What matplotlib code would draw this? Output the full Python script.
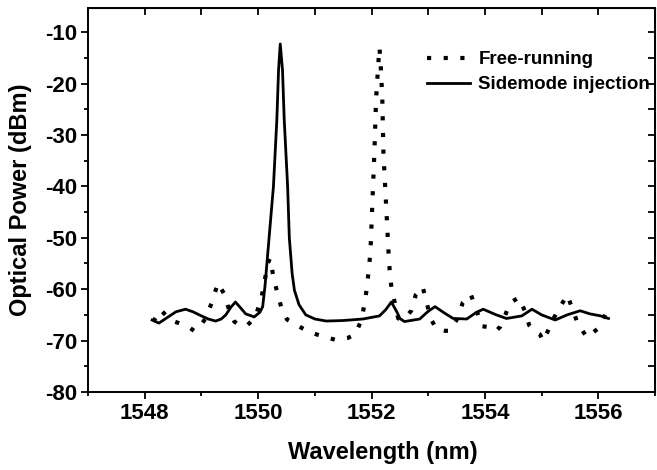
import numpy as np
import matplotlib.pyplot as plt
from matplotlib.ticker import MultipleLocator

plt.rcParams['font.family'] = ['Liberation Sans', 'DejaVu Sans']
plt.rcParams['font.weight'] = 'bold'
plt.rcParams['axes.unicode_minus'] = False

# Free-running spectrum (dotted)
free_wl = [1548.15, 1548.28, 1548.45, 1548.65, 1548.78, 1548.87, 1548.96, 1549.08,
           1549.19, 1549.29, 1549.41, 1549.50, 1549.58, 1549.69, 1549.81, 1549.95,
           1550.06, 1550.12, 1550.17, 1550.21, 1550.27, 1550.34, 1550.42, 1550.51,
           1550.65, 1550.78, 1550.95, 1551.14, 1551.38, 1551.46, 1551.58, 1551.72,
           1551.82, 1551.88, 1551.92, 1551.95, 1551.98, 1552.05, 1552.08, 1552.12,
           1552.14, 1552.16, 1552.19, 1552.21, 1552.30, 1552.32, 1552.35, 1552.47,
           1552.58, 1552.70, 1552.78, 1552.90, 1552.98, 1553.03, 1553.15, 1553.29,
           1553.38, 1553.50, 1553.61, 1553.75, 1553.85, 1553.94, 1554.09, 1554.20,
           1554.27, 1554.36, 1554.44, 1554.60, 1554.71, 1554.78, 1554.88, 1554.97,
           1555.03, 1555.12, 1555.22, 1555.33, 1555.45, 1555.55, 1555.63, 1555.71,
           1555.80, 1555.89, 1556.00, 1556.18]
free_pw = [-66.3, -64.0, -66.0, -66.8, -67.4, -68.1, -67.6, -65.5,
           -62.4, -58.8, -61.1, -64.5, -66.3, -67.2, -67.0, -65.5,
           -61.6, -58.1, -55.0, -54.0, -57.6, -60.8, -64.0, -65.9,
           -66.8, -67.6, -68.5, -69.2, -69.9, -69.7, -69.5, -68.7,
           -66.0, -62.7, -59.5, -56.3, -52.9, -33.5, -23.0, -16.0,
           -13.0, -16.0, -23.0, -33.5, -52.9, -56.3, -59.6, -65.7,
           -65.8, -64.2, -61.1, -59.5, -62.8, -65.5, -67.8, -68.1,
           -68.1, -66.0, -62.6, -61.0, -64.0, -67.2, -67.4, -68.1,
           -67.3, -65.0, -62.7, -61.6, -64.4, -67.0, -68.3, -68.8,
           -70.1, -67.9, -65.5, -63.4, -61.1, -64.0, -66.5, -67.9,
           -69.4, -68.6, -67.6, -63.7]

# Sidemode injection spectrum (solid)
inj_wl = [1548.13, 1548.25, 1548.40, 1548.55, 1548.72, 1548.85, 1549.00, 1549.12,
          1549.25, 1549.35, 1549.43, 1549.52, 1549.60, 1549.68, 1549.78, 1549.93,
          1550.03, 1550.08, 1550.12, 1550.19, 1550.27, 1550.33, 1550.36, 1550.39,
          1550.43, 1550.46, 1550.52, 1550.55, 1550.60, 1550.64, 1550.72, 1550.84,
          1551.00, 1551.20, 1551.50, 1551.85, 1552.14, 1552.25, 1552.35, 1552.45,
          1552.50, 1552.58, 1552.85, 1553.00, 1553.12, 1553.28, 1553.44, 1553.68,
          1553.85, 1553.97, 1554.20, 1554.38, 1554.65, 1554.83, 1555.00, 1555.24,
          1555.45, 1555.68, 1555.85, 1556.04, 1556.18]
inj_pw = [-66.0, -66.6, -65.5, -64.4, -63.9, -64.4, -65.2, -65.8,
          -66.2, -65.8, -65.0, -63.5, -62.5, -63.5, -64.8, -65.4,
          -64.5, -63.4, -59.5, -50.4, -40.0, -27.0, -17.4, -12.3,
          -17.4, -27.0, -40.0, -50.0, -57.0, -60.2, -63.0, -65.0,
          -65.8, -66.2, -66.1, -65.8, -65.2, -64.0, -62.5, -64.5,
          -65.7, -66.3, -65.8, -64.3, -63.4, -64.6, -65.7, -65.8,
          -64.5, -63.9, -65.0, -65.7, -65.2, -63.9, -65.0, -66.0,
          -65.0, -64.2, -64.8, -65.2, -65.7]

fig = plt.figure(figsize=(6.57, 4.7), dpi=100)
ax = fig.add_axes([0.134, 0.166, 0.863, 0.817])

ax.plot(free_wl, free_pw, color='black', lw=3, linestyle=(0, (1, 3)),
        label='Free-running')
ax.plot(inj_wl, inj_pw, color='black', lw=2, label='Sidemode injection')

ax.set_xlim(1547, 1557)
ax.set_ylim(-80, -5.3)
ax.xaxis.set_major_locator(MultipleLocator(2))
ax.xaxis.set_minor_locator(MultipleLocator(1))
ax.yaxis.set_major_locator(MultipleLocator(10))
ax.yaxis.set_minor_locator(MultipleLocator(5))
ax.set_xticks([1548, 1550, 1552, 1554, 1556])

for s in ax.spines.values():
    s.set_linewidth(1.4)
ax.tick_params(which='both', direction='out', width=1.3, labelsize=16, pad=3)
ax.tick_params(which='major', length=5)
ax.tick_params(which='minor', length=3)

# inward ticks on top and right
top = ax.secondary_xaxis('top')
top.xaxis.set_major_locator(MultipleLocator(1))
top.tick_params(direction='in', length=5, width=1.3, labeltop=False)
right = ax.secondary_yaxis('right')
right.yaxis.set_major_locator(MultipleLocator(5))
right.tick_params(direction='in', length=5, width=1.3, labelright=False)

ax.set_xlabel('Wavelength (nm)', fontsize=17, fontweight='bold')
ax.set_ylabel('Optical Power (dBm)', fontsize=17, fontweight='bold')
ax.xaxis.set_label_coords(0.52, -0.128)
ax.yaxis.set_label_coords(-0.099, 0.5)

ax.legend(loc='upper left', bbox_to_anchor=(0.581, 0.912), frameon=False,
          prop={'size': 13.5, 'weight': 'bold'}, handlelength=2.3,
          handletextpad=0.45, labelspacing=0.42, borderpad=0)

fig.savefig('out.png', dpi=100)
